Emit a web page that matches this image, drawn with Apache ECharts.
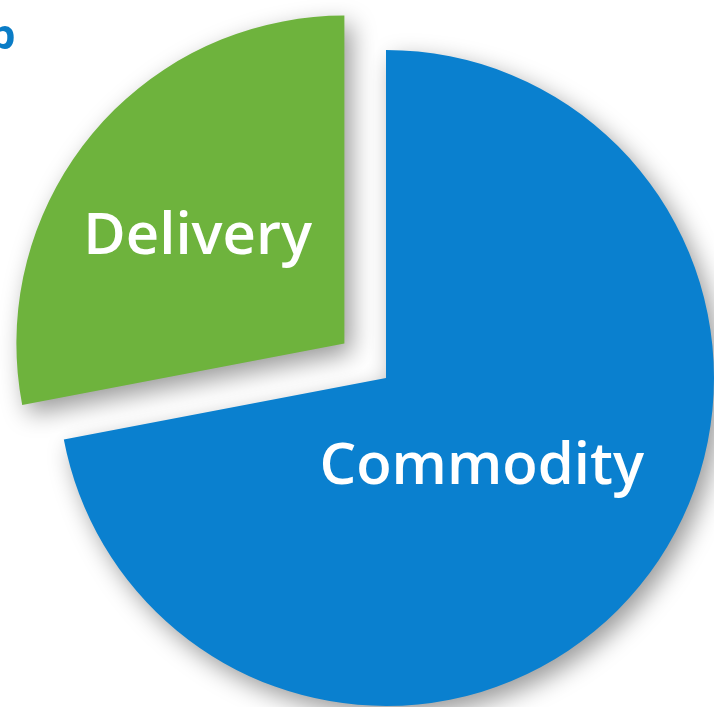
<!DOCTYPE html>
<html>
<head>
<meta charset="utf-8">
<script src="https://cdn.jsdelivr.net/npm/echarts@6/dist/echarts.min.js"></script>
<style>
  html, body { margin: 0; padding: 0; background: #fff; }
  #chart { width: 714px; height: 707px; }
</style>
</head>
<body>
<div id="chart"></div>
<script>
// 数据
const categories = ['Commodity', 'Delivery'];
const values = [72, 28];
const colors = ['#0a80cf', '#6eb33d'];

const myChart = echarts.init(document.getElementById('chart'));

// 标签位置微调
const labelOffsets = [[-33, -17], [-18, 0]];

const pieData = categories.map((name, i) => ({
    name: name,
    value: values[i],
    selected: name === 'Delivery',
    itemStyle: { color: colors[i] },
    label: { offset: labelOffsets[i] },
    select: { label: { offset: labelOffsets[i] } }
}));

myChart.setOption({
    animation: false,
    title: {
        text: 'p',
        left: -16,
        top: 11,
        textStyle: {
            color: '#0a7cc6',
            fontFamily: 'Open Sans',
            fontWeight: 'bold',
            fontSize: 42
        }
    },
    series: [
        {
            type: 'pie',
            center: [386, 378],
            radius: 328,
            startAngle: 90,
            clockwise: true,
            selectedMode: 'single',
            selectedOffset: 54,
            emphasis: { disabled: true },
            itemStyle: {
                shadowBlur: 24,
                shadowColor: 'rgba(0,0,0,0.4)',
                shadowOffsetX: 7,
                shadowOffsetY: 9
            },
            label: {
                show: true,
                position: 'inside',
                formatter: '{b}',
                color: '#fff',
                fontFamily: 'Open Sans',
                fontWeight: 600,
                fontSize: 58
            },
            labelLine: { show: false },
            data: pieData
        }
    ]
});
</script>
</body>
</html>
